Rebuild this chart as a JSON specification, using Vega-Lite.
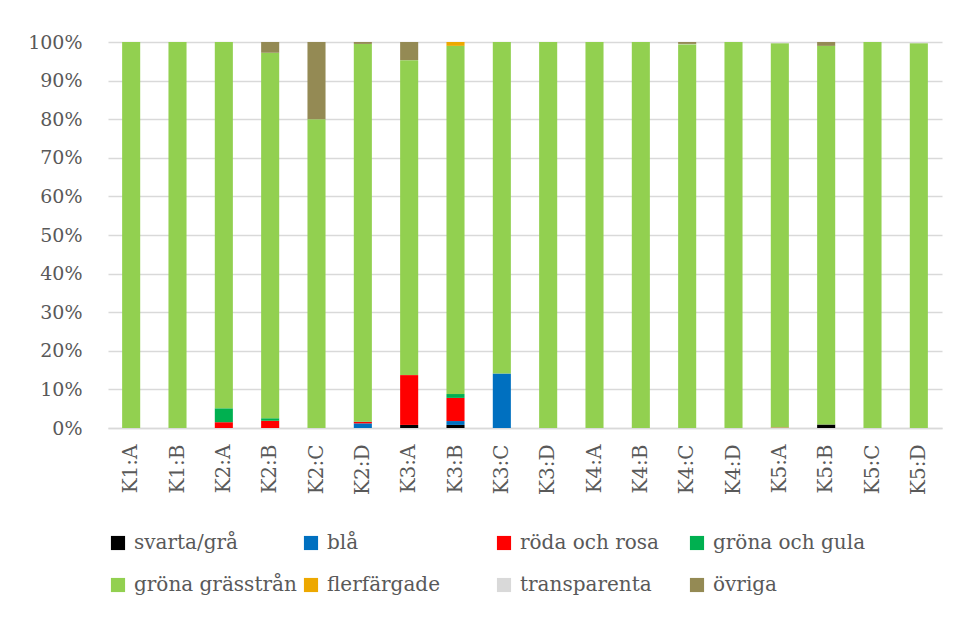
{
  "$schema": "https://vega.github.io/schema/vega-lite/v6.json",
  "width": 834,
  "height": 386,
  "autosize": {"type": "none"},
  "padding": {"left": 108, "top": 42, "right": 18, "bottom": 191},
  "background": "white",
  "config": {
    "font": "DejaVu Serif",
    "view": {"stroke": null},
    "axis": {"labelFont": "DejaVu Serif", "labelColor": "#595959", "title": null, "ticks": false},
    "legend": {"labelFont": "DejaVu Serif"}
  },
  "datasets": {
    "kategorier": [
      {"kategori": "svarta/grå", "ordning": 1},
      {"kategori": "blå", "ordning": 2},
      {"kategori": "röda och rosa", "ordning": 3},
      {"kategori": "gröna och gula", "ordning": 4},
      {"kategori": "gröna grässtrån", "ordning": 5},
      {"kategori": "flerfärgade", "ordning": 6},
      {"kategori": "transparenta", "ordning": 7},
      {"kategori": "övriga", "ordning": 8}
    ]
  },
  "data": {
    "values": [
      {"plats": "K1:A", "kategori": "gröna grässtrån", "andel": 100},
      {"plats": "K1:B", "kategori": "gröna grässtrån", "andel": 100},
      {"plats": "K2:A", "kategori": "röda och rosa", "andel": 1.5},
      {"plats": "K2:A", "kategori": "gröna och gula", "andel": 3.6},
      {"plats": "K2:A", "kategori": "gröna grässtrån", "andel": 94.9},
      {"plats": "K2:B", "kategori": "röda och rosa", "andel": 1.9},
      {"plats": "K2:B", "kategori": "gröna och gula", "andel": 0.6},
      {"plats": "K2:B", "kategori": "gröna grässtrån", "andel": 94.7},
      {"plats": "K2:B", "kategori": "övriga", "andel": 2.8},
      {"plats": "K2:C", "kategori": "gröna grässtrån", "andel": 80},
      {"plats": "K2:C", "kategori": "övriga", "andel": 20},
      {"plats": "K2:D", "kategori": "blå", "andel": 1.2},
      {"plats": "K2:D", "kategori": "röda och rosa", "andel": 0.4},
      {"plats": "K2:D", "kategori": "gröna och gula", "andel": 0.1},
      {"plats": "K2:D", "kategori": "gröna grässtrån", "andel": 97.8},
      {"plats": "K2:D", "kategori": "övriga", "andel": 0.5},
      {"plats": "K3:A", "kategori": "svarta/grå", "andel": 0.8},
      {"plats": "K3:A", "kategori": "röda och rosa", "andel": 12.9},
      {"plats": "K3:A", "kategori": "gröna grässtrån", "andel": 81.6},
      {"plats": "K3:A", "kategori": "övriga", "andel": 4.7},
      {"plats": "K3:B", "kategori": "svarta/grå", "andel": 0.8},
      {"plats": "K3:B", "kategori": "blå", "andel": 1.0},
      {"plats": "K3:B", "kategori": "röda och rosa", "andel": 6.0},
      {"plats": "K3:B", "kategori": "gröna och gula", "andel": 1.0},
      {"plats": "K3:B", "kategori": "gröna grässtrån", "andel": 90.2},
      {"plats": "K3:B", "kategori": "flerfärgade", "andel": 1.0},
      {"plats": "K3:C", "kategori": "blå", "andel": 14.1},
      {"plats": "K3:C", "kategori": "gröna grässtrån", "andel": 85.9},
      {"plats": "K3:D", "kategori": "gröna grässtrån", "andel": 100},
      {"plats": "K4:A", "kategori": "gröna grässtrån", "andel": 100},
      {"plats": "K4:B", "kategori": "gröna grässtrån", "andel": 100},
      {"plats": "K4:C", "kategori": "gröna grässtrån", "andel": 99.4},
      {"plats": "K4:C", "kategori": "transparenta", "andel": 0.1},
      {"plats": "K4:C", "kategori": "övriga", "andel": 0.5},
      {"plats": "K4:D", "kategori": "gröna grässtrån", "andel": 100},
      {"plats": "K5:A", "kategori": "röda och rosa", "andel": 0.1},
      {"plats": "K5:A", "kategori": "gröna grässtrån", "andel": 99.6},
      {"plats": "K5:A", "kategori": "transparenta", "andel": 0.3},
      {"plats": "K5:B", "kategori": "svarta/grå", "andel": 0.9},
      {"plats": "K5:B", "kategori": "gröna grässtrån", "andel": 98.1},
      {"plats": "K5:B", "kategori": "övriga", "andel": 1.0},
      {"plats": "K5:C", "kategori": "gröna grässtrån", "andel": 100},
      {"plats": "K5:D", "kategori": "gröna grässtrån", "andel": 99.7},
      {"plats": "K5:D", "kategori": "transparenta", "andel": 0.3}
    ]
  },
  "transform": [
    {"lookup": "kategori", "from": {"data": {"name": "kategorier"}, "key": "kategori", "fields": ["ordning"]}}
  ],
  "mark": {"type": "bar"},
  "encoding": {
    "x": {
      "field": "plats",
      "type": "nominal",
      "sort": null,
      "scale": {"paddingInner": 0.61, "paddingOuter": 0.305},
      "axis": {
        "labelAngle": -90,
        "labelFontSize": 20,
        "labelPadding": 16,
        "domain": true,
        "domainColor": "#D9D9D9",
        "domainWidth": 1.5,
        "grid": false
      }
    },
    "y": {
      "field": "andel",
      "type": "quantitative",
      "stack": "normalize",
      "scale": {"domain": [0, 1]},
      "axis": {
        "format": ".0%",
        "values": [0, 0.1, 0.2, 0.3, 0.4, 0.5, 0.6, 0.7, 0.8, 0.9, 1],
        "labelFontSize": 19,
        "labelPadding": 26,
        "domain": false,
        "grid": true,
        "gridColor": "#D9D9D9",
        "gridWidth": 1.5
      }
    },
    "order": {"field": "ordning", "type": "quantitative", "sort": "ascending"},
    "color": {
      "field": "kategori",
      "type": "nominal",
      "scale": {
        "domain": ["svarta/grå", "blå", "röda och rosa", "gröna och gula", "gröna grässtrån", "flerfärgade", "transparenta", "övriga"],
        "range": ["#000000", "#0070C0", "#FF0000", "#00B050", "#92D050", "#EDA800", "#D9D9D9", "#948A54"]
      },
      "legend": {
        "title": null,
        "orient": "none",
        "legendX": 0,
        "legendY": 491,
        "direction": "horizontal",
        "columns": 4,
        "gridAlign": "all",
        "symbolType": "square",
        "symbolSize": 200,
        "symbolStrokeWidth": 0,
        "labelFontSize": 20,
        "labelColor": "#595959",
        "labelOffset": 6,
        "labelLimit": 400,
        "columnPadding": 4,
        "rowPadding": 22
      }
    }
  }
}
